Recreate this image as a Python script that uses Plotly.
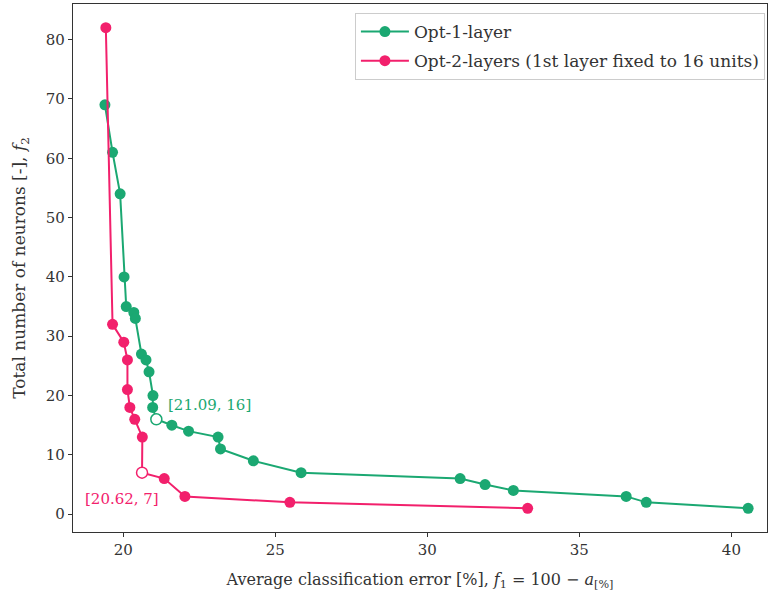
import plotly.graph_objects as go

# Opt-1-layer (green)
opt1_err = [19.4, 19.65, 19.9, 20.03, 20.1, 20.35, 20.4, 20.6, 20.75, 20.85, 20.98, 20.97,
            21.09, 21.6, 22.15, 23.12, 23.2, 24.28, 25.85, 31.08, 31.9, 32.83, 36.54, 37.2, 40.55]
opt1_neu = [69, 61, 54, 40, 35, 34, 33, 27, 26, 24, 20, 18,
            16, 15, 14, 13, 11, 9, 7, 6, 5, 4, 3, 2, 1]

# Opt-2-layers (pink)
opt2_err = [19.43, 19.65, 20.02, 20.14, 20.14, 20.22, 20.38, 20.63, 20.62, 21.35, 22.03, 25.48, 33.3]
opt2_neu = [82, 32, 29, 26, 21, 18, 16, 13, 7, 6, 3, 2, 1]

# highlighted (knee) solutions
knee1 = (21.09, 16)
knee2 = (20.62, 7)

GREEN = "#1ba872"
PINK = "#f2206c"
FONT = "DejaVu Serif, serif"

fig = go.Figure()
fig.add_trace(go.Scatter(x=opt1_err, y=opt1_neu, mode="lines+markers", name="Opt-1-layer",
                         legendgroup="a",
                         line=dict(color=GREEN, width=2), marker=dict(color=GREEN, size=11)))
fig.add_trace(go.Scatter(x=opt2_err, y=opt2_neu, mode="lines+markers",
                         name="Opt-2-layers (1st layer fixed to 16 units)", legendgroup="b",
                         line=dict(color=PINK, width=2), marker=dict(color=PINK, size=11)))
fig.add_trace(go.Scatter(x=[knee1[0]], y=[knee1[1]], mode="markers", showlegend=False,
                         marker=dict(color="white", size=11, line=dict(color=GREEN, width=1.5))))
fig.add_trace(go.Scatter(x=[knee2[0]], y=[knee2[1]], mode="markers", showlegend=False,
                         marker=dict(color="white", size=11, line=dict(color=PINK, width=1.5))))

fig.add_annotation(x=knee1[0], y=knee1[1], text="[21.09, 16]", showarrow=False,
                   xanchor="left", yanchor="middle", xshift=10, yshift=14,
                   font=dict(color=GREEN, size=15, family=FONT))
fig.add_annotation(x=knee2[0], y=knee2[1], text="[20.62, 7]", showarrow=False,
                   xanchor="right", yanchor="middle", xshift=19, yshift=-26,
                   font=dict(color=PINK, size=15, family=FONT))

axis_common = dict(showgrid=False, zeroline=False, showline=True, linecolor="#333",
                   linewidth=1.2, mirror=True, ticks="outside", ticklen=4, tickcolor="#333",
                   automargin=False,
                   tickfont=dict(size=15, family=FONT, color="#333"))
fig.update_xaxes(range=[18.35, 41.17], tickvals=[20, 25, 30, 35, 40],
                 title=dict(text="Average classification error [%], <i>f</i><sub>1</sub> = 100 − <i>a</i><sub>[%]</sub>",
                            font=dict(size=16, family=FONT, color="#333")),
                 **axis_common)
fig.update_yaxes(range=[-3, 86], tickvals=list(range(0, 90, 10)),
                 title=dict(text="Total number of neurons [-], <i>f</i><sub>2</sub>",
                            font=dict(size=17, family=FONT, color="#333")),
                 **axis_common)

fig.update_layout(width=769, height=600, plot_bgcolor="white", paper_bgcolor="white",
                  margin=dict(l=73, r=2, t=4, b=68),
                  font=dict(family=FONT, color="#333"),
                  legend=dict(x=0.997, y=0.983, xanchor="right", yanchor="top",
                              bgcolor="white", bordercolor="#ccc", borderwidth=1,
                              font=dict(size=17, family=FONT, color="#333"),
                              itemwidth=48, traceorder="grouped", tracegroupgap=4))

fig.write_html("out.html", config={"displayModeBar": False},
               post_script="document.body.style.margin='0';document.body.style.overflow='hidden';")
